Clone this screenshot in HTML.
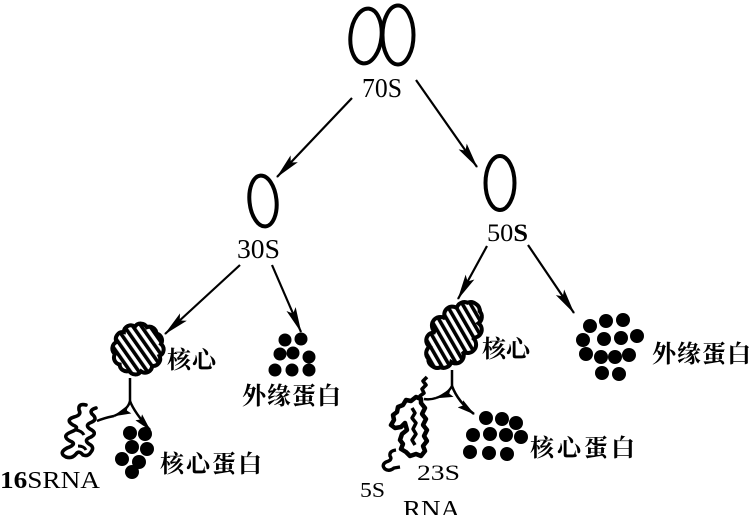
<!DOCTYPE html>
<html><head><meta charset="utf-8"><style>
html,body{margin:0;padding:0;background:#fff;}
svg{display:block;}
.cn{font-family:"Noto Serif CJK SC","Noto Sans CJK SC",serif;font-weight:bold;font-size:24px;fill:#000;}
.lt{font-family:"Liberation Serif",serif;fill:#000;}
</style></head><body>
<svg width="753" height="515" viewBox="0 0 753 515" xmlns="http://www.w3.org/2000/svg">
<defs>
<marker id="ah" viewBox="0 0 26 11" refX="25" refY="5.5" markerWidth="26" markerHeight="11" orient="auto" markerUnits="userSpaceOnUse">
<path d="M0,0.5 L26,5.5 L0,10.5 L5,5.5 z" fill="#000"/>
</marker>
<marker id="as" viewBox="0 0 18 9" refX="17" refY="4.5" markerWidth="18" markerHeight="9" orient="auto" markerUnits="userSpaceOnUse">
<path d="M0,0 L18,4.5 L0,9 L3,4.5 z" fill="#000"/>
</marker>
<pattern id="hatchL" width="7" height="7" patternUnits="userSpaceOnUse" patternTransform="rotate(5)">
<rect x="0" y="0" width="3.6" height="7" fill="#000"/>
</pattern>
<pattern id="hatchR" width="7" height="7" patternUnits="userSpaceOnUse" patternTransform="rotate(25)">
<rect x="0" y="0" width="3.6" height="7" fill="#000"/>
</pattern>
<path id="blobL" d="M24,0 A7,7 0 0 1 20.8,11 A7,7 0 0 1 12,19.1 A7,7 0 0 1 0,22 A7,7 0 0 1 -12,19.1 A7,7 0 0 1 -20.8,11 A7,7 0 0 1 -24,0 A7,7 0 0 1 -20.8,-11 A7,7 0 0 1 -12,-19.1 A7,7 0 0 1 0,-22 A7,7 0 0 1 12,-19.1 A7,7 0 0 1 20.8,-11 A7,7 0 0 1 24,0 Z"/>
<path id="blobR" d="M38,0 A8,8 0 0 1 34.2,7.4 A8,8 0 0 1 23.7,13.3 A8,8 0 0 1 8.5,16.6 A8,8 0 0 1 -8.5,16.6 A8,8 0 0 1 -23.7,13.3 A8,8 0 0 1 -34.2,7.4 A8,8 0 0 1 -38,0 A8,8 0 0 1 -34.2,-7.4 A8,8 0 0 1 -23.7,-13.3 A8,8 0 0 1 -8.5,-16.6 A8,8 0 0 1 8.5,-16.6 A8,8 0 0 1 23.7,-13.3 A8,8 0 0 1 34.2,-7.4 A8,8 0 0 1 38,0 Z"/>
</defs>

<!-- 70S -->
<ellipse cx="366" cy="36" rx="15.5" ry="27.5" fill="none" stroke="#000" stroke-width="4" transform="rotate(6 366 36)"/>
<ellipse cx="398" cy="35" rx="15.5" ry="29.5" fill="none" stroke="#000" stroke-width="4"/>
<text class="lt" x="362" y="97" font-size="27" textLength="40" lengthAdjust="spacingAndGlyphs">70S</text>

<!-- arrows from 70S -->
<line x1="352" y1="98" x2="277" y2="177" stroke="#000" stroke-width="2.2" marker-end="url(#ah)"/>
<line x1="416" y1="80" x2="477" y2="167" stroke="#000" stroke-width="2.2" marker-end="url(#ah)"/>

<!-- 30S -->
<ellipse cx="263" cy="201" rx="13.5" ry="25.5" fill="none" stroke="#000" stroke-width="4" transform="rotate(-6 263 201)"/>
<text class="lt" x="237" y="258" font-size="27" textLength="43" lengthAdjust="spacingAndGlyphs">30S</text>

<!-- 50S -->
<ellipse cx="500" cy="183" rx="14.5" ry="27" fill="none" stroke="#000" stroke-width="4"/>
<text class="lt" x="487" y="241" font-size="25" textLength="41" lengthAdjust="spacingAndGlyphs">50<tspan font-weight="bold">S</tspan></text>

<!-- arrows from 30S -->
<line x1="240" y1="265" x2="165" y2="334" stroke="#000" stroke-width="2.2" marker-end="url(#ah)"/>
<line x1="272" y1="265" x2="301" y2="332" stroke="#000" stroke-width="2.2" marker-end="url(#ah)"/>

<!-- arrows from 50S -->
<line x1="487" y1="246" x2="458" y2="299" stroke="#000" stroke-width="2.2" marker-end="url(#ah)"/>
<line x1="528" y1="245" x2="574" y2="313" stroke="#000" stroke-width="2.2" marker-end="url(#ah)"/>

<!-- left core blob -->
<g transform="translate(138 349) rotate(-40)">
<use href="#blobL" fill="#fff" stroke="#000" stroke-width="4"/>
<use href="#blobL" fill="url(#hatchL)"/>
</g>
<text class="cn" x="167" y="368" letter-spacing="1">核心</text>

<!-- left outer proteins -->
<g fill="#000">
<circle cx="285" cy="340" r="6.5"/><circle cx="301" cy="339" r="6.5"/>
<circle cx="280" cy="354" r="6.5"/><circle cx="293" cy="353" r="6.5"/><circle cx="309" cy="357" r="6.5"/>
<circle cx="275" cy="370" r="6.5"/><circle cx="292" cy="370" r="6.5"/><circle cx="309" cy="370" r="6.5"/>
</g>
<text class="cn" x="242" y="404" letter-spacing="1">外缘蛋白</text>

<!-- left branch -->
<path d="M130,378 L130,401 Q128,410 114,416" fill="none" stroke="#000" stroke-width="2.5" marker-end="url(#as)"/>
<path d="M130,401 Q134,412 150,430" fill="none" stroke="#000" stroke-width="2.5" marker-end="url(#as)"/>
<path d="M114,416 Q104,418 97,421" fill="none" stroke="#000" stroke-width="2.5"/>

<!-- 16S RNA squiggle -->
<path d="M86,405 q-8,-2 -7,5 q3,5 -5,7 q-9,3 -1,8 q8,3 -2,7 q-10,4 -1,9 q8,3 -3,7 q-9,5 -1,9 q6,2 10,-3 q3,-4 7,1 q5,2 8,-3 q4,-5 -2,-8 q-6,-4 2,-7 q7,-4 -1,-8 q-6,-4 2,-7 q6,-3 0,-8 q-3,-4 4,-6" fill="none" stroke="#000" stroke-width="3.6" stroke-linejoin="round" stroke-linecap="round"/>
<path d="M76,430 q6,1 8,5 M78,446 q6,0 8,4" fill="none" stroke="#000" stroke-width="3"/>

<!-- left core proteins -->
<g fill="#000">
<circle cx="130" cy="433" r="7"/><circle cx="145" cy="434" r="7"/>
<circle cx="132" cy="447" r="7"/><circle cx="147" cy="449" r="7"/>
<circle cx="122" cy="459" r="7"/><circle cx="139" cy="462" r="7"/>
<circle cx="132" cy="472" r="7"/>
</g>
<text class="cn" x="160" y="472" letter-spacing="2">核心蛋白</text>
<text class="lt" x="0" y="488" font-size="24" textLength="100" lengthAdjust="spacingAndGlyphs"><tspan font-weight="bold">16</tspan>SRNA</text>

<!-- right core blob -->
<circle cx="476" cy="311" r="4.5" fill="none" stroke="#000" stroke-width="3"/>
<g transform="translate(454 335) rotate(-55)">
<use href="#blobR" fill="#fff" stroke="#000" stroke-width="4"/>
<use href="#blobR" fill="url(#hatchR)"/>
</g>
<text class="cn" x="482" y="357" letter-spacing="0">核心</text>

<!-- right outer proteins -->
<g fill="#000">
<circle cx="590" cy="326" r="7"/><circle cx="606" cy="321" r="7"/><circle cx="623" cy="320" r="7"/>
<circle cx="583" cy="340" r="7"/><circle cx="604" cy="339" r="7"/><circle cx="621" cy="338" r="7"/><circle cx="637" cy="336" r="7"/>
<circle cx="586" cy="354" r="7"/><circle cx="601" cy="357" r="7"/><circle cx="615" cy="357" r="7"/><circle cx="629" cy="355" r="7"/>
<circle cx="602" cy="373" r="7"/><circle cx="619" cy="374" r="7"/>
</g>
<text class="cn" x="652" y="362" letter-spacing="1">外缘蛋白</text>

<!-- right branch -->
<path d="M452,370 L452,386 Q448,394 436,398" fill="none" stroke="#000" stroke-width="2.5" marker-end="url(#as)"/>
<path d="M452,386 Q458,402 474,414" fill="none" stroke="#000" stroke-width="2.5" marker-end="url(#as)"/>
<path d="M436,398 Q430,400 424,399" fill="none" stroke="#000" stroke-width="2.5"/>

<!-- 23S RNA squiggle -->
<path d="M427,377 l-4,4 l3,4 l-4,4 l2,4 l-4,3 l1,4" fill="none" stroke="#000" stroke-width="3.6" stroke-linejoin="round"/>
<path d="M421,399 L416,397 L411,401 L406,400 L403,405 L398,407 L397,412 L393,415 L394,420 L391,425 L395,428 L401,427 L405,423 L407,430 L402,434 L400,440 L403,444 L401,449 L406,452 L410,456 L416,454 L421,456 L425,451 L423,446 L427,441 L424,436 L427,430 L423,425 L426,419 L422,414 L425,408 L421,403 Z" fill="none" stroke="#000" stroke-width="4.5" stroke-linejoin="round"/>
<path d="M412,408 l3,5 l-3,5 l4,5 l-3,6 l3,5 l-4,6 l3,5" fill="none" stroke="#000" stroke-width="3.5" stroke-linejoin="round"/>
<!-- 5S squiggle -->
<path d="M396,450 q-7,1 -6,6 q3,4 -4,6 q-5,3 -1,7 q4,3 9,-1 l6,-1" fill="none" stroke="#000" stroke-width="3.4" stroke-linejoin="round"/>

<!-- right core proteins -->
<g fill="#000">
<circle cx="486" cy="418" r="7"/><circle cx="502" cy="419" r="7"/><circle cx="516" cy="423" r="7"/>
<circle cx="473" cy="435" r="7"/><circle cx="490" cy="434" r="7"/><circle cx="506" cy="435" r="7"/><circle cx="521" cy="437" r="7"/>
<circle cx="470" cy="452" r="7"/><circle cx="489" cy="453" r="7"/><circle cx="507" cy="454" r="7"/>
</g>
<text class="cn" x="530" y="456" letter-spacing="3">核心蛋白</text>

<text class="lt" x="417" y="480" font-size="22" textLength="43" lengthAdjust="spacingAndGlyphs">23S</text>
<text class="lt" x="360" y="497" font-size="21" textLength="25" lengthAdjust="spacingAndGlyphs">5S</text>
<text class="lt" x="403" y="517" font-size="24" textLength="57" lengthAdjust="spacingAndGlyphs">RNA</text>
</svg>
</body></html>
